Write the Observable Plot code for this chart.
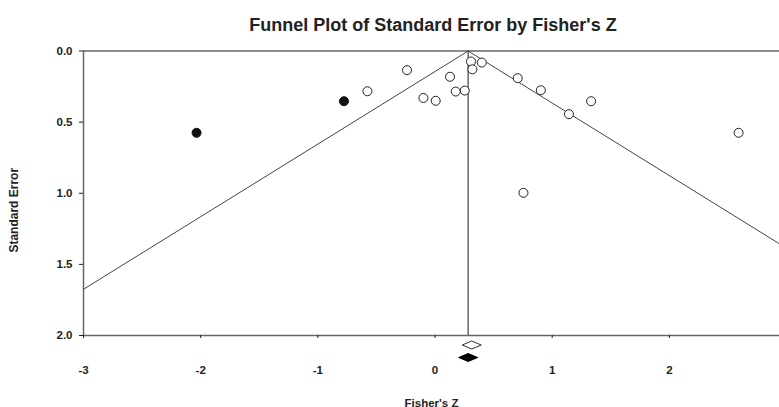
<!DOCTYPE html>
<html><head><meta charset="utf-8">
<script src="https://cdn.jsdelivr.net/npm/d3@7"></script>
<script src="https://cdn.jsdelivr.net/npm/@observablehq/plot@0.6"></script>
<style>
body{margin:0;background:#fff;font-family:Arial,"Liberation Sans",sans-serif;}
#wrap{position:relative;width:779px;height:407px;overflow:hidden;}
#title{position:absolute;top:15px;left:83px;width:700px;text-align:center;font-weight:bold;font-size:18px;color:#222;line-height:20px;}
#chart svg text{font-weight:bold;}
</style></head><body>
<div id="wrap"><div id="chart"></div><div id="title">Funnel Plot of Standard Error by Fisher's Z</div></div>
<script>
// Observed studies (open circles)
const studyZ  = [-0.577, -0.239, 0.128, -0.099, 0.006, 0.177, 0.254, 0.307, 0.319, 0.399, 0.706, 0.903, 1.143, 1.332, 2.591, 0.755];
const studySE = [ 0.283,  0.135, 0.181,  0.330, 0.350, 0.285, 0.278, 0.074, 0.129, 0.081, 0.191, 0.276, 0.444, 0.353, 0.575, 0.997];
// Imputed studies (filled circles, trim and fill)
const imputedZ  = [-2.035, -0.777];
const imputedSE = [ 0.575,  0.353];
// Summary effects
const observedMean = 0.313;
const adjustedMean = 0.283;
// Axis ticks
const xTicks = [-3, -2, -1, 0, 1, 2];
const xTickLabels = ["-3", "-2", "-1", "0", "1", "2"];
const yTicks = [0, 0.5, 1.0, 1.5, 2.0];
const yTickLabels = ["0.0", "0.5", "1.0", "1.5", "2.0"];
const seRange = [0, 2];

const studies = studyZ.map((z, i) => ({z, se: studySE[i]}));
const imputed = imputedZ.map((z, i) => ({z, se: imputedSE[i]}));
const funnelLeft = seRange.map(se => ({z: adjustedMean - 1.96 * se, se}));
const funnelRight = seRange.map(se => ({z: adjustedMean + 1.96 * se, se}));

const wideDiamond = {
  draw(ctx) {
    ctx.moveTo(-9.5, 0); ctx.lineTo(0, -4); ctx.lineTo(9.5, 0); ctx.lineTo(0, 4); ctx.closePath();
  }
};

const chart = Plot.plot({
  width: 779, height: 407,
  marginLeft: 83, marginRight: 0, marginTop: 50.5, marginBottom: 72,
  style: {fontFamily: "Arial, 'Liberation Sans', sans-serif", background: "transparent", color: "#222"},
  x: {domain: [-3, 2.94]},
  y: {domain: [0, 2], reverse: true},
  marks: [
    Plot.ruleX([-3], {stroke: "#666", strokeWidth: 1.5}),
    Plot.ruleY([0, 2], {stroke: "#666", strokeWidth: 1.5}),
    Plot.ruleX([adjustedMean], {stroke: "#666", strokeWidth: 1.5}),
    Plot.line(funnelLeft, {x: "z", y: "se", stroke: "#444", strokeWidth: 1, clip: true}),
    Plot.line(funnelRight, {x: "z", y: "se", stroke: "#444", strokeWidth: 1, clip: true}),
    Plot.dot(studies, {x: "z", y: "se", r: 4.5, stroke: "#222", fill: "white", strokeWidth: 1}),
    Plot.dot(imputed, {x: "z", y: "se", r: 4.5, stroke: "#111", fill: "#111", strokeWidth: 1}),
    Plot.dot([observedMean], {x: d => d, y: () => 2, dy: 9.5, symbol: wideDiamond, stroke: "#333", fill: "white", strokeWidth: 1}),
    Plot.dot([adjustedMean], {x: d => d, y: () => 2, dy: 22, symbol: wideDiamond, stroke: "#000", fill: "#000", strokeWidth: 1}),
    Plot.axisX({ticks: xTicks, tickFormat: d => xTickLabels[xTicks.indexOf(d)], tickSize: 3, tickPadding: 27, fontSize: 11.5, fontWeight: "bold",
      label: "Fisher's Z", labelAnchor: "center", labelArrow: "none", labelOffset: 71}),
    Plot.axisY({ticks: yTicks, tickFormat: d => yTickLabels[yTicks.indexOf(d)], tickSize: 4, tickPadding: 7, fontSize: 11.5, fontWeight: "bold",
      label: "Standard Error", labelAnchor: "center", labelArrow: "none", labelOffset: 74})
  ]
});
document.getElementById("chart").appendChild(chart);
// axis title sizes and placement
chart.querySelectorAll("g[aria-label='x-axis label'] text").forEach(t => t.setAttribute("font-size", "11.5"));
chart.querySelectorAll("g[aria-label='y-axis label'] text").forEach(t => {
  t.setAttribute("font-size", "12");
  const tr = t.getAttribute("transform") || "";
  const m = tr.match(/translate\(([-\d.]+),\s*([-\d.]+)\)/);
  if (m) t.setAttribute("transform", tr.replace(m[0], `translate(${m[1]},${(+m[2] + 17).toFixed(2)})`));
});
</script>
</body></html>
